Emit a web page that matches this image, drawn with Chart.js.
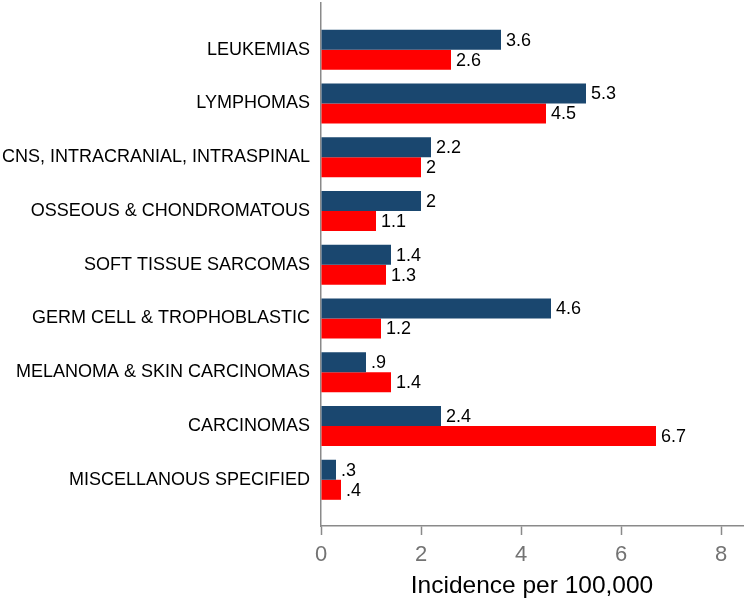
<!DOCTYPE html>
<html>
<head>
<meta charset="utf-8">
<script src="https://cdn.jsdelivr.net/npm/chart.js@4/dist/chart.umd.min.js"></script>
<style>
html,body{margin:0;padding:0;background:#fff;}
#wrap{width:746px;height:601px;}
</style>
</head>
<body>
<div id="wrap"><canvas id="c" width="746" height="601"></canvas></div>
<script>
const categories = [
  "LEUKEMIAS",
  "LYMPHOMAS",
  "CNS, INTRACRANIAL, INTRASPINAL",
  "OSSEOUS & CHONDROMATOUS",
  "SOFT TISSUE SARCOMAS",
  "GERM CELL & TROPHOBLASTIC",
  "MELANOMA & SKIN CARCINOMAS",
  "CARCINOMAS",
  "MISCELLANOUS SPECIFIED"
];
const seriesA = [3.6, 5.3, 2.2, 2.0, 1.4, 4.6, 0.9, 2.4, 0.3];
const seriesB = [2.6, 4.5, 2.0, 1.1, 1.3, 1.2, 1.4, 6.7, 0.4];
const xTicks = [0, 2, 4, 6, 8];

function fmt(v) {
  let s = String(Math.round(v * 10) / 10);
  if (s.startsWith("0.")) s = s.slice(1);
  return s;
}

const valueLabels = {
  id: "valueLabels",
  afterDatasetsDraw(chart) {
    const ctx = chart.ctx;
    ctx.save();
    ctx.font = "18px 'Liberation Sans', Arial, sans-serif";
    ctx.fillStyle = "#000";
    ctx.textAlign = "left";
    ctx.textBaseline = "middle";
    chart.data.datasets.forEach((ds, di) => {
      const meta = chart.getDatasetMeta(di);
      meta.data.forEach((el, i) => {
        ctx.fillText(fmt(ds.data[i].x), el.x + 5, el.y + 1);
      });
    });
    ctx.restore();
  }
};

new Chart(document.getElementById("c"), {
  type: "bar",
  data: {
    datasets: [
      {
        label: "A",
        data: seriesA.map((v, i) => ({ x: v, y: i })),
        backgroundColor: "#1a476f",
        barPercentage: 1,
        categoryPercentage: 0.745
      },
      {
        label: "B",
        data: seriesB.map((v, i) => ({ x: v, y: i })),
        backgroundColor: "#ff0000",
        barPercentage: 1,
        categoryPercentage: 0.745
      }
    ]
  },
  options: {
    indexAxis: "y",
    responsive: false,
    animation: false,
    layout: { padding: { top: 3, right: 3, left: 0, bottom: 0 } },
    plugins: { legend: { display: false }, tooltip: { enabled: false } },
    scales: {
      y: {
        type: "linear",
        reverse: true,
        offset: false,
        min: -0.87,
        max: 8.86,
        afterBuildTicks(scale) {
          scale.ticks = categories.map((_, i) => ({ value: i }));
        },
        afterFit(scale) {
          scale.width = 321;
          scale.paddingTop = 0;
          scale.paddingBottom = 0;
        },
        grid: { display: false, drawTicks: false, offset: false },
        border: { display: true, color: "#8a8a8a", width: 1.5 },
        ticks: {
          padding: 11,
          color: "#000",
          font: { family: "'Liberation Sans', Arial, sans-serif", size: 18 },
          callback: (v) => categories[v] !== undefined ? categories[v] : ""
        }
      },
      x: {
        type: "linear",
        min: 0,
        max: 8.44,
        afterBuildTicks(scale) {
          scale.ticks = xTicks.map(v => ({ value: v }));
        },
        afterFit(scale) { scale.height = 75; },
        grid: { display: true, drawOnChartArea: false, drawTicks: true, tickLength: 9, color: "#8a8a8a", tickWidth: 1.5 },
        border: { display: true, color: "#8a8a8a", width: 1.5 },
        ticks: {
          padding: 7,
          color: "#737373",
          font: { family: "'Liberation Sans', Arial, sans-serif", size: 22 },
          maxRotation: 0
        },
        title: {
          display: true,
          text: "Incidence per 100,000",
          color: "#000",
          font: { family: "'Liberation Sans', Arial, sans-serif", size: 24.5 },
          padding: { top: 2, bottom: 0 }
        }
      }
    }
  },
  plugins: [valueLabels]
});
</script>
</body>
</html>
